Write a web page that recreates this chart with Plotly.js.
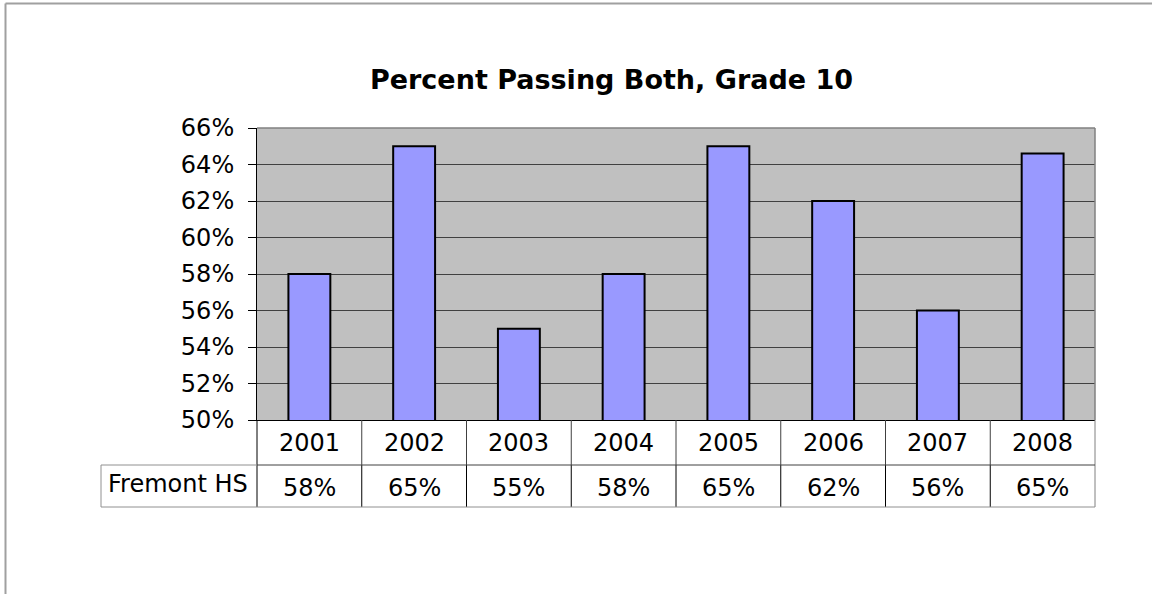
<!DOCTYPE html>
<html>
<head>
<meta charset="utf-8">
<script src="https://cdn.plot.ly/plotly-3.0.1.min.js"></script>
<style>html,body{margin:0;padding:0;background:#fff;}#chart{width:1152px;height:594px;}</style>
</head>
<body>
<div id="chart"></div>
<script>
var years = ['2001','2002','2003','2004','2005','2006','2007','2008'];
var seriesName = 'Fremont HS';
var passing = [58, 65, 55, 58, 65, 62, 56, 64.6];
var yTickVals = [50, 52, 54, 56, 58, 60, 62, 64, 66];
var yTickText = ['50%','52%','54%','56%','58%','60%','62%','64%','66%'];
var chartTitle = 'Percent Passing Both, Grade 10';

var FONT = 'DejaVu Sans, Arial, sans-serif';
var W = 1152, H = 594;
var L = 257, R = 1095, T = 128, B = 420;
function px(x){ return (x - L) / (R - L); }
function py(y){ return (B - y) / (B - T); }

var row1Bottom = py(465), row2Bottom = py(507);
var tableLeft = px(101);

var shapes = [];
shapes.push({type:'line', xref:'paper', yref:'paper', x0:px(5.5), x1:px(1200), y0:py(3.5), y1:py(3.5), line:{color:'#a0a0a0', width:2}});
shapes.push({type:'line', xref:'paper', yref:'paper', x0:px(5.5), x1:px(5.5), y0:py(3.5), y1:py(650), line:{color:'#a0a0a0', width:2}});
shapes.push({type:'line', xref:'paper', yref:'paper', x0:0, x1:1, y0:1, y1:1, line:{color:'#808080', width:1.5}});
shapes.push({type:'line', xref:'paper', yref:'paper', x0:1, x1:1, y0:0, y1:1, line:{color:'#808080', width:1.5}});
for (var k = 0; k < years.length - 1; k++) {
  shapes.push({type:'line', xref:'x', yref:'paper', x0:k+0.5, x1:k+0.5, y0:0, y1:row1Bottom, line:{color:'#404040', width:1}});
  shapes.push({type:'line', xref:'x', yref:'paper', x0:k+0.5, x1:k+0.5, y0:row1Bottom, y1:row2Bottom, line:{color:'#000', width:1}});
}
shapes.push({type:'line', xref:'paper', yref:'paper', x0:0, x1:0, y0:0, y1:row2Bottom, line:{color:'#000', width:1}});
shapes.push({type:'line', xref:'paper', yref:'paper', x0:1, x1:1, y0:0, y1:row2Bottom, line:{color:'#808080', width:1}});
shapes.push({type:'line', xref:'paper', yref:'paper', x0:0, x1:1, y0:row1Bottom, y1:row1Bottom, line:{color:'#404040', width:1}});
shapes.push({type:'line', xref:'paper', yref:'paper', x0:tableLeft, x1:0, y0:row1Bottom, y1:row1Bottom, line:{color:'#909090', width:1}});
shapes.push({type:'line', xref:'paper', yref:'paper', x0:tableLeft, x1:1, y0:row2Bottom, y1:row2Bottom, line:{color:'#909090', width:1}});
shapes.push({type:'line', xref:'paper', yref:'paper', x0:tableLeft, x1:tableLeft, y0:row1Bottom, y1:row2Bottom, line:{color:'#909090', width:1}});

var annotations = [];
for (var i = 0; i < years.length; i++) {
  annotations.push({xref:'x', yref:'paper', x:i, y:py(443), text:years[i], showarrow:false, xanchor:'center', yanchor:'middle', font:{family:FONT, size:24, color:'#000'}});
  annotations.push({xref:'x', yref:'paper', x:i, y:py(488), text:Math.round(passing[i]) + '%', showarrow:false, xanchor:'center', yanchor:'middle', font:{family:FONT, size:24, color:'#000'}});
}
annotations.push({xref:'paper', yref:'paper', x:px(178), y:py(484), text:seriesName, showarrow:false, xanchor:'center', yanchor:'middle', font:{family:FONT, size:24, color:'#000'}});

var trace = {
  type:'bar', x: years, y: passing, width: 0.4, name: seriesName,
  marker:{color:'#9999FF', line:{color:'#000', width:2}},
  hoverinfo:'skip'
};

var layout = {
  width: W, height: H,
  margin:{l:L, r:W-R, t:T, b:H-B, pad:0},
  paper_bgcolor:'#fff', plot_bgcolor:'#C0C0C0',
  showlegend:false,
  title:{text:'<b>' + chartTitle + '</b>', font:{family:FONT, size:27, color:'#000'}, xref:'paper', x:px(611.5), xanchor:'center', yref:'container', y:1-80/H, yanchor:'middle'},
  xaxis:{type:'category', range:[-0.5, 7.5], showticklabels:false, ticks:'', showgrid:false, zeroline:false, showline:true, linecolor:'#000', linewidth:1, fixedrange:true},
  yaxis:{range:[50,66], tickvals:yTickVals, ticktext:yTickText, ticks:'outside', ticklen:8, tickcolor:'#000', tickwidth:1,
         showline:true, linecolor:'#000', linewidth:1, showgrid:true, gridcolor:'#404040', gridwidth:1, zeroline:false,
         tickfont:{family:FONT, size:24, color:'#000'}, ticklabelstandoff:9, fixedrange:true},
  shapes: shapes,
  annotations: annotations,
  bargap: 0.6
};

Plotly.newPlot('chart', [trace], layout, {displayModeBar:false, staticPlot:true});
</script>
</body>
</html>
